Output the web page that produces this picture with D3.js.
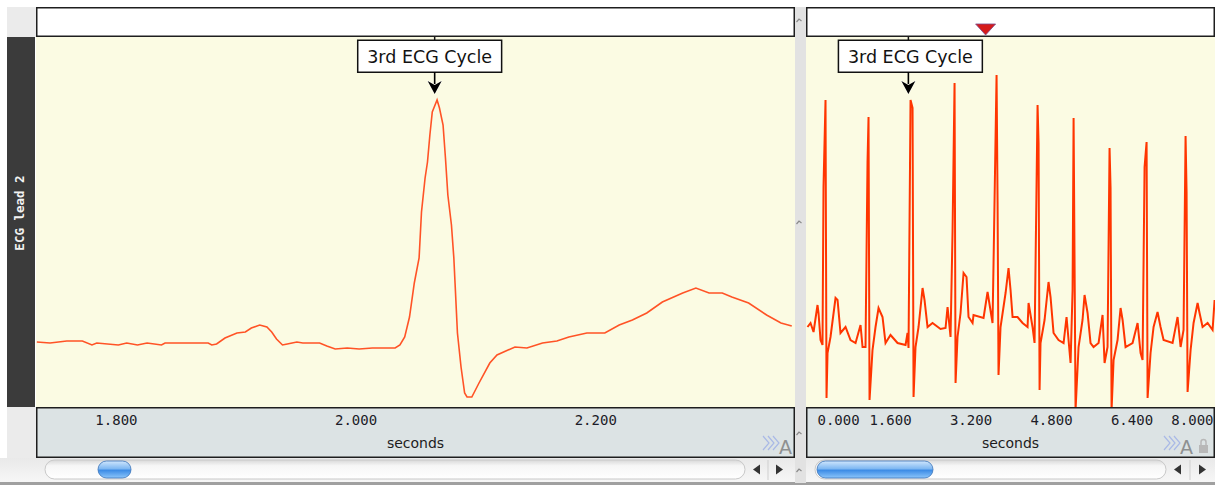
<!DOCTYPE html>
<html><head><meta charset="utf-8">
<script src="https://cdn.jsdelivr.net/npm/d3@7"></script>
<style>body{margin:0;background:#fff;overflow:hidden}svg{display:block}</style>
</head><body><svg id="c" width="1215" height="485"></svg>
<script>
// ---- data ----
const leftTimes = [1.734,1.745,1.759,1.772,1.780,1.784,1.802,1.809,1.818,1.826,1.838,1.841,1.877,1.880,1.884,1.891,1.901,1.908,1.913,1.920,1.926,1.930,1.934,1.939,1.943,1.951,1.956,1.970,1.976,1.983,1.993,2.003,2.014,2.033,2.037,2.041,2.045,2.049,2.053,2.055,2.058,2.060,2.062,2.064,2.068,2.070,2.073,2.075,2.077,2.080,2.082,2.083,2.085,2.088,2.091,2.093,2.097,2.103,2.112,2.118,2.133,2.143,2.156,2.168,2.178,2.193,2.208,2.220,2.231,2.243,2.256,2.273,2.284,2.295,2.306,2.314,2.328,2.343,2.355,2.364];
const leftValues = [0.000,-0.005,0.005,0.005,-0.015,-0.005,-0.015,-0.005,-0.015,-0.005,-0.015,-0.005,-0.005,-0.015,-0.010,0.020,0.045,0.050,0.070,0.085,0.075,0.050,0.015,-0.015,-0.010,0.000,-0.005,-0.005,-0.020,-0.035,-0.030,-0.035,-0.030,-0.030,-0.015,0.025,0.125,0.295,0.420,0.650,0.820,0.900,1.035,1.150,1.210,1.170,1.085,0.920,0.735,0.585,0.420,0.295,0.045,-0.125,-0.255,-0.275,-0.275,-0.205,-0.105,-0.065,-0.025,-0.030,-0.005,0.005,0.025,0.045,0.045,0.085,0.110,0.145,0.200,0.245,0.270,0.245,0.245,0.225,0.195,0.135,0.095,0.080];

const rightTimes = [-0.040,0.020,0.080,0.159,0.179,0.219,0.258,0.278,0.318,0.338,0.358,0.417,0.517,0.557,0.616,0.716,0.815,0.915,1.014,1.054,1.113,1.153,1.173,1.193,1.252,1.312,1.372,1.451,1.511,1.610,1.750,1.909,1.948,1.968,2.008,2.048,2.068,2.107,2.167,2.247,2.286,2.346,2.445,2.604,2.704,2.744,2.803,2.843,2.883,2.903,2.942,3.002,3.062,3.121,3.161,3.241,3.260,3.459,3.539,3.638,3.658,3.718,3.738,3.757,3.797,3.897,3.956,3.996,4.036,4.135,4.235,4.334,4.354,4.433,4.473,4.533,4.553,4.573,4.592,4.672,4.751,4.791,4.851,4.950,5.050,5.109,5.189,5.229,5.249,5.288,5.348,5.427,5.467,5.527,5.586,5.646,5.746,5.825,5.865,5.924,5.964,5.984,6.004,6.044,6.123,6.183,6.223,6.282,6.421,6.521,6.581,6.620,6.660,6.700,6.720,6.779,6.839,6.918,6.978,7.038,7.217,7.316,7.376,7.435,7.475,7.495,7.515,7.575,7.634,7.714,7.753,7.813,7.913,8.012,8.052];
const rightValues = [0.075,0.095,0.050,0.185,0.145,0.010,-0.015,0.775,1.210,-0.280,-0.055,0.025,0.220,0.210,0.045,0.075,0.010,-0.005,0.085,-0.025,-0.025,0.900,1.125,-0.290,-0.040,0.075,0.170,0.125,-0.005,0.035,-0.005,-0.015,0.045,-0.030,1.210,1.170,-0.275,-0.025,0.075,0.270,0.210,0.075,0.095,0.065,0.070,0.175,0.025,0.550,1.295,-0.205,0.025,0.145,0.345,0.325,0.125,0.095,0.135,0.120,0.250,0.095,0.395,1.335,0.700,-0.165,0.075,0.245,0.370,0.260,0.125,0.125,0.095,0.075,0.195,0.075,-0.005,1.185,0.995,-0.240,-0.005,0.110,0.300,0.225,0.045,0.010,-0.005,0.125,-0.105,0.260,1.120,-0.340,-0.025,0.110,0.235,0.145,-0.005,-0.025,-0.005,0.135,-0.105,-0.025,0.970,0.770,-0.340,-0.090,0.010,0.170,0.110,-0.025,-0.005,0.095,-0.055,-0.090,0.875,1.000,-0.280,-0.055,0.075,0.150,0.075,0.010,-0.005,0.125,-0.025,0.060,1.030,0.750,-0.250,-0.040,0.095,0.195,0.145,0.075,0.095,0.060,0.210];

const leftTicks = [1.8, 2.0, 2.2];
const rightTicks = [0, 1.6, 3.2, 4.8, 6.4, 8.0];
const annotationLabel = "3rd ECG Cycle";
const annotationTimeLeft = 2.066;
const annotationTimeRight = 1.965;
const channelLabel = "ECG lead 2";
const axisTitle = "seconds";
const cursorTime = 3.5;

// ---- layout ----
const svg = d3.select("#c");
const TOP = 7, PLOT_T = 37, PLOT_B = 407, AX_B = 458;
const L = {x0: 36, x1: 795};
const R = {x0: 806, x1: 1215};

const xL = d3.scaleLinear().domain([1.7333, 2.3667]).range([L.x0, L.x1]);
const xR = d3.scaleLinear().domain([-0.07, 8.06]).range([R.x0, R.x1]);
const y = d3.scaleLinear().domain([-0.325, 1.525]).range([PLOT_B, PLOT_T]);

const defs = svg.append("defs");
const trk = defs.append("linearGradient").attr("id","trk").attr("x1",0).attr("y1",0).attr("x2",0).attr("y2",1);
trk.append("stop").attr("offset","0%").attr("stop-color","#d8d8d8");
trk.append("stop").attr("offset","30%").attr("stop-color","#f6f6f6");
trk.append("stop").attr("offset","100%").attr("stop-color","#ffffff");
const th = defs.append("linearGradient").attr("id","thumb").attr("x1",0).attr("y1",0).attr("x2",0).attr("y2",1);
th.append("stop").attr("offset","0%").attr("stop-color","#cfe6fd");
th.append("stop").attr("offset","45%").attr("stop-color","#7fb8f2");
th.append("stop").attr("offset","55%").attr("stop-color","#3d8ce6");
th.append("stop").attr("offset","100%").attr("stop-color","#8cc6fb");
const sb = defs.append("linearGradient").attr("id","sbbg").attr("x1",0).attr("y1",0).attr("x2",0).attr("y2",1);
sb.append("stop").attr("offset","0%").attr("stop-color","#e9e9e9");
sb.append("stop").attr("offset","100%").attr("stop-color","#f7f7f7");
defs.append("clipPath").attr("id","clipL").append("rect").attr("x",L.x0).attr("y",PLOT_T).attr("width",L.x1-L.x0).attr("height",PLOT_B-PLOT_T);
defs.append("clipPath").attr("id","clipR").append("rect").attr("x",R.x0).attr("y",PLOT_T).attr("width",R.x1-R.x0).attr("height",PLOT_B-PLOT_T);

// background pieces
svg.append("rect").attr("x",7).attr("y",TOP).attr("width",29).attr("height",PLOT_T-TOP).attr("fill","#ebebeb");
svg.append("rect").attr("x",7).attr("y",PLOT_B).attr("width",29).attr("height",AX_B-PLOT_B).attr("fill","#ebebeb");
svg.append("rect").attr("x",0).attr("y",AX_B).attr("width",1215).attr("height",25).attr("fill","url(#sbbg)");
svg.append("rect").attr("x",0).attr("y",482).attr("width",1215).attr("height",3).attr("fill","#a0a0a0");
// splitter
svg.append("rect").attr("x",795).attr("y",TOP).attr("width",11).attr("height",AX_B-TOP+25).attr("fill","#e2e2e2");
[20, 222, 433, 470].forEach(yy => {
  svg.append("path").attr("d",`M796.5,${yy+2} L799,${yy-1} L801.5,${yy+1}`).attr("fill","none").attr("stroke","#8a8a8a").attr("stroke-width",1.2);
});

// sidebar
svg.append("rect").attr("x",7).attr("y",PLOT_T).attr("width",28).attr("height",PLOT_B-PLOT_T).attr("fill","#3b3b3b");
svg.append("text").attr("transform",`translate(24,213) rotate(-90)`).attr("text-anchor","middle")
  .attr("font-family","DejaVu Sans Mono").attr("font-weight","bold").attr("font-size",12.5).attr("fill","#f2f2f2").text(channelLabel);

function panel(P, x, times, values, clipId, color, width, ticks, annT, clampLabels, boxShift) {
  // top strip
  svg.append("rect").attr("x",P.x0+0.75).attr("y",TOP+0.75).attr("width",P.x1-P.x0-1.5).attr("height",PLOT_T-TOP-1.5)
    .attr("fill","#fff").attr("stroke","#1e1e1e").attr("stroke-width",1.5);
  // plot area
  svg.append("rect").attr("x",P.x0).attr("y",PLOT_T).attr("width",P.x1-P.x0).attr("height",PLOT_B-PLOT_T).attr("fill","#fbfbe3");
  // trace
  const data = d3.zip(times, values);
  svg.append("path").datum(data).attr("clip-path",`url(#${clipId})`)
    .attr("d", d3.line().x(d=>x(d[0])).y(d=>y(d[1])))
    .attr("fill","none").attr("stroke",color).attr("stroke-width",width).attr("stroke-linejoin","miter");
  // axis area
  svg.append("rect").attr("x",P.x0+0.75).attr("y",PLOT_B+0.75).attr("width",P.x1-P.x0-1.5).attr("height",AX_B-PLOT_B-1.5)
    .attr("fill","#dce3e4").attr("stroke","#1e1e1e").attr("stroke-width",1.5);
  const g = svg.append("g").attr("transform",`translate(0,${PLOT_B})`)
    .call(d3.axisBottom(x).tickValues(ticks).tickFormat(d3.format(".3f")).tickSize(0).tickPadding(8));
  g.select(".domain").remove();
  g.selectAll("text").attr("font-family","DejaVu Sans Mono").attr("font-size",14).attr("fill","#1c1c28");
  if (clampLabels) {
    g.selectAll(".tick").each(function(d){
      const t = d3.select(this).select("text");
      const w = t.node().getComputedTextLength();
      const px = x(d);
      if (px - w/2 < P.x0 + 11) t.attr("x", P.x0 + 11 + w/2 - px);
      if (px + w/2 > P.x1 - 2) t.attr("x", P.x1 - 2 - w/2 - px);
    });
  }
  svg.append("text").attr("x",(P.x0 + P.x1)/2).attr("y",448).attr("text-anchor","middle")
    .attr("font-family","DejaVu Sans").attr("font-size",14).attr("fill","#1c1c1c").text(axisTitle);
  // annotation
  const ax = x(annT);
  const bc = ax + boxShift;
  svg.append("line").attr("x1",ax).attr("x2",ax).attr("y1",PLOT_T).attr("y2",41).attr("stroke","#111").attr("stroke-width",1.5);
  const txt = svg.append("text").attr("x",bc).attr("y",63).attr("text-anchor","middle")
    .attr("font-family","DejaVu Sans").attr("font-size",17.5).attr("fill","#111").text(annotationLabel);
  const tw = txt.node().getComputedTextLength();
  svg.insert("rect", () => txt.node()).attr("x",bc-tw/2-9.5).attr("y",40.25).attr("width",tw+19).attr("height",32)
    .attr("fill","#fff").attr("stroke","#111").attr("stroke-width",1.5);
  svg.append("line").attr("x1",ax).attr("x2",ax).attr("y1",72).attr("y2",84).attr("stroke","#000").attr("stroke-width",1.6);
  svg.append("path").attr("d",`M${ax-7},81 L${ax},94 L${ax+7},81 L${ax},85 Z`).attr("fill","#000")
    .attr("stroke","#fff").attr("stroke-width",0.8).attr("paint-order","stroke");
}

panel(L, xL, leftTimes, leftValues, "clipL", "#ff5326", 1.6, leftTicks, annotationTimeLeft, false, -5);
panel(R, xR, rightTimes, rightValues, "clipR", "#ff3500", 2, rightTicks, annotationTimeRight, true, 2);

// cursor marker in right top strip
const cxm = xR(cursorTime);
svg.append("path").attr("d",`M${cxm-10},24 L${cxm+10},24 L${cxm},35 Z`).attr("fill","#d51b1b").attr("stroke","#7a4a8a").attr("stroke-width",0.8);

// "»A" icons
function autoIcon(x0) {
  [0, 5, 10].forEach(o => svg.append("path").attr("d",`M${x0+o},436 L${x0+o+6},443 L${x0+o},450`).attr("fill","none").attr("stroke","#a9b9e6").attr("stroke-width",1.2));
  svg.append("text").attr("x",x0+16).attr("y",454).attr("font-family","DejaVu Sans").attr("font-size",19).attr("fill","#8e9090").text("A");
}
autoIcon(763);
autoIcon(1164);
// lock
svg.append("rect").attr("x",1199).attr("y",445).attr("width",9).attr("height",8).attr("fill","#b8b8b8");
svg.append("path").attr("d","M1201,445 v-3 a2.5,2.5 0 0 1 5,0 v3").attr("fill","none").attr("stroke","#b8b8b8").attr("stroke-width",1.5);

// scrollbars
function scrollbar(t0, t1, th0, th1, a1, a2) {
  svg.append("rect").attr("x",t0).attr("y",460).attr("width",t1-t0).attr("height",19).attr("rx",9.5)
    .attr("fill","url(#trk)").attr("stroke","#c9c9c9").attr("stroke-width",1);
  svg.append("rect").attr("x",th0).attr("y",461).attr("width",th1-th0).attr("height",17).attr("rx",8.5)
    .attr("fill","url(#thumb)").attr("stroke","#3a72b8").attr("stroke-width",0.8);
  svg.append("path").attr("d",`M${a1+4},464.5 L${a1-3},469.5 L${a1+4},474.5 Z`).attr("fill","#333");
  svg.append("path").attr("d",`M${a2-4},464.5 L${a2+3},469.5 L${a2-4},474.5 Z`).attr("fill","#333");
  svg.append("line").attr("x1",(a1+a2)/2).attr("x2",(a1+a2)/2).attr("y1",460).attr("y2",480).attr("stroke","#cfcfcf");
}
scrollbar(45, 745, 98, 131, 756, 780);
scrollbar(815, 1166, 817, 933, 1177, 1203);
</script></body></html>
